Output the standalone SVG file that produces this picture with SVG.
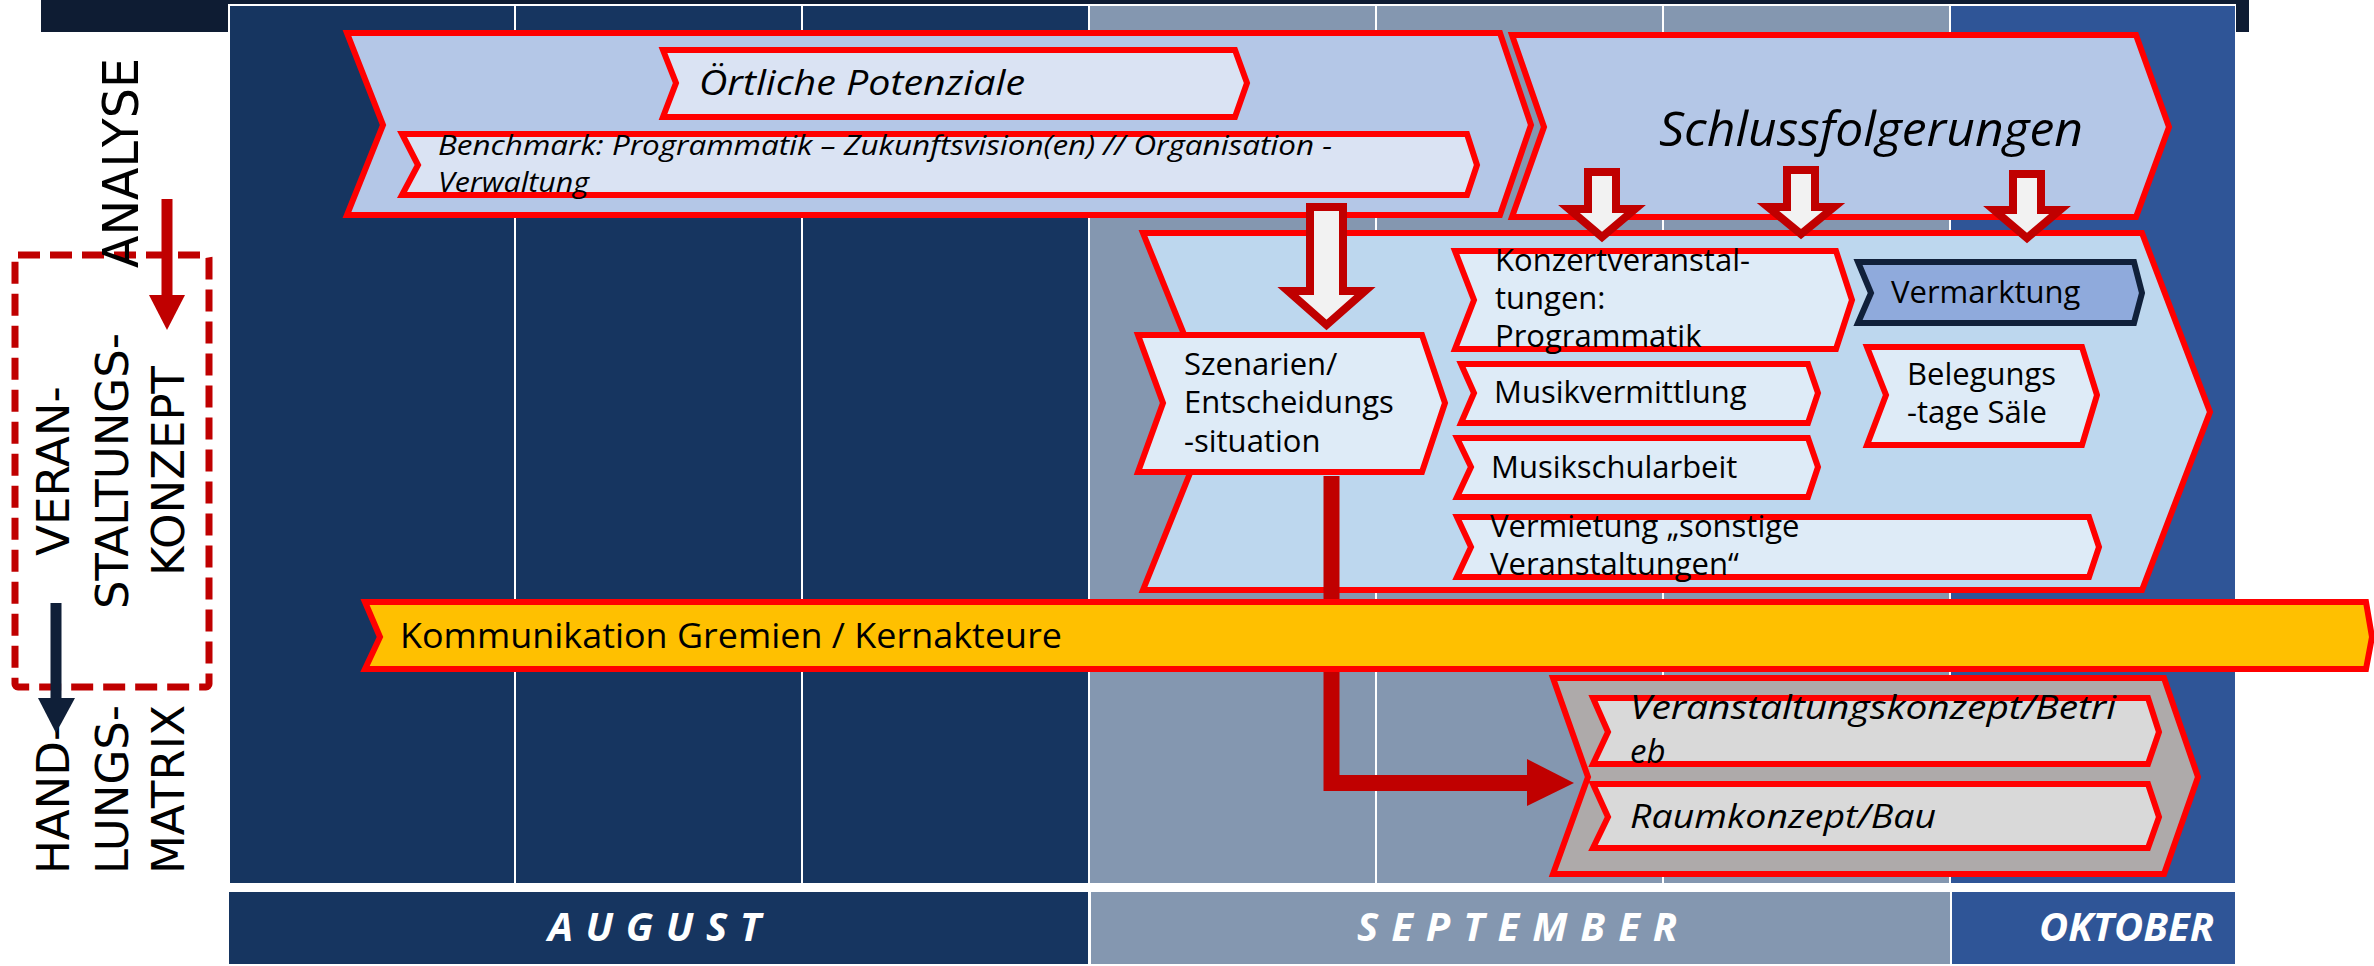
<svg xmlns="http://www.w3.org/2000/svg" width="2374" height="966" viewBox="0 0 2374 966">
<defs>
<style>
.bx{stroke:#FF0000;stroke-width:6;stroke-linejoin:miter}
.l1{fill:#B4C7E7}
.l2{fill:#DAE3F3}
.k1{fill:#BDD7EE}
.k2{fill:#DEEBF7}
.g1{fill:#AEAAAA}
.g2{fill:#D9D9D9}
.t{font-family:"Open Sans","Liberation Sans",sans-serif;fill:#000}
.it{font-style:italic}
.side{font-family:"DejaVu Sans","Liberation Sans",sans-serif;font-size:45px;fill:#000}
.mon{font-family:"Open Sans","Liberation Sans",sans-serif;font-size:40px;font-weight:bold;font-style:italic;fill:#FFFFFF}
.col{stroke:#FFFFFF;stroke-width:2}
.harrow{fill:#F2F2F2;stroke:#C00000;stroke-width:8;stroke-linejoin:miter}
</style>
</defs>

<!-- background -->
<g id="timeline">
<rect x="41" y="0" width="2208" height="32" fill="#0E1C33"/>
<rect x="228" y="4" width="2008" height="880" fill="#FFFFFF"/>
<rect x="230" y="6" width="858" height="877" fill="#163560"/>
<rect x="1088" y="6" width="862" height="877" fill="#8497B0"/>
<rect x="1950" y="6" width="285" height="877" fill="#2F5597"/>
<line class="col" x1="515" y1="5" x2="515" y2="883"/>
<line class="col" x1="802" y1="5" x2="802" y2="883"/>
<line class="col" x1="1089" y1="5" x2="1089" y2="883"/>
<line class="col" x1="1376" y1="5" x2="1376" y2="883"/>
<line class="col" x1="1663" y1="5" x2="1663" y2="883"/>
<line class="col" x1="1950" y1="5" x2="1950" y2="883"/>
<rect x="229" y="892" width="859" height="72" fill="#163560"/>
<rect x="1091" y="892" width="859" height="72" fill="#8497B0"/>
<rect x="1952" y="892" width="283" height="72" fill="#2F5597"/>
<text class="mon" x="548" y="941" letter-spacing="12.5">AUGUST</text>
<text class="mon" x="1357" y="941" letter-spacing="13">SEPTEMBER</text>
<text class="mon" x="2214" y="941" text-anchor="end">OKTOBER</text>
</g>

<!-- left side labels -->
<g id="side-labels">
<rect x="15" y="255" width="194" height="432" rx="3" fill="none" stroke="#C00000" stroke-width="7" stroke-dasharray="22 10"/>
<text class="side" transform="translate(138,268) rotate(-90)" textLength="210" lengthAdjust="spacingAndGlyphs" style="font-size:50px">ANALYSE</text>
<text class="side" text-anchor="middle" transform="translate(69,471) rotate(-90)">VERAN-</text>
<text class="side" text-anchor="middle" transform="translate(128,471) rotate(-90)">STALTUNGS-</text>
<text class="side" text-anchor="middle" transform="translate(184,471) rotate(-90)">KONZEPT</text>
<text class="side" transform="translate(69,874) rotate(-90)">HAND-</text>
<text class="side" transform="translate(128,874) rotate(-90)">LUNGS-</text>
<text class="side" transform="translate(184,874) rotate(-90)">MATRIX</text>
</g>
<g id="side-arrows">
<line x1="167" y1="199" x2="167" y2="297" stroke="#C00000" stroke-width="11"/>
<polygon points="149,295 185,295 167,330" fill="#C00000"/>
<line x1="56" y1="603" x2="56" y2="700" stroke="#0F1F38" stroke-width="11"/>
<polygon points="38,698 75,698 56,733" fill="#0F1F38"/>
</g>

<!-- Analyse -->
<g id="analyse">
<polygon class="bx l1" points="347,33 1500,33 1531,125 1500,215 347,215 383,125"/>
</g>
<g id="oertliche-potenziale">
<polygon class="bx l2" points="663,50 1235,50 1247,83 1235,117 663,117 676,83"/>
<text class="t it" x="699" y="95" font-size="34" textLength="326" lengthAdjust="spacingAndGlyphs">Örtliche Potenziale</text>
</g>
<g id="benchmark">
<polygon class="bx l2" points="402,134 1467,134 1477,165 1467,195 402,195 418,165"/>
<text class="t it" font-size="28"><tspan x="438" y="155" textLength="894" lengthAdjust="spacingAndGlyphs">Benchmark: Programmatik – Zukunftsvision(en) // Organisation -</tspan></text>
<text class="t it" font-size="28" x="438" y="192" textLength="151" lengthAdjust="spacingAndGlyphs">Verwaltung</text>
</g>

<g id="schlussfolgerungen">
<polygon class="bx l1" points="1512,35 2136,35 2169,127 2136,217 1512,217 1544,127"/>
<text class="t it" x="1659" y="146" font-size="47" textLength="424" lengthAdjust="spacingAndGlyphs">Schlussfolgerungen</text>
</g>

<!-- Konzept -->
<g id="konzept">
<polygon class="bx k1" points="1143,233 2142,233 2210,412 2142,590 1143,590 1215,411"/>
</g>
<g id="konzertveranstaltungen">
<polygon class="bx k2" points="1455,251 1836,251 1852,300 1836,349 1455,349 1474,300"/>
<text class="t" font-size="31"><tspan x="1495" y="271">Konzertveranstal-</tspan><tspan x="1495" y="309">tungen:</tspan><tspan x="1495" y="347">Programmatik</tspan></text>
</g>
<g id="musikvermittlung">
<polygon class="bx k2" points="1461,364 1808,364 1818,393 1808,423 1461,423 1474,393"/>
<text class="t" x="1494" y="403" font-size="31">Musikvermittlung</text>
</g>
<g id="musikschularbeit">
<polygon class="bx k2" points="1457,438 1808,438 1818,467 1808,497 1457,497 1471,467"/>
<text class="t" x="1491" y="478" font-size="31">Musikschularbeit</text>
</g>
<g id="vermietung">
<polygon class="bx k2" points="1457,517 2089,517 2099,547 2089,577 1457,577 1471,547"/>
<text class="t" font-size="31"><tspan x="1490" y="537">Vermietung „sonstige</tspan><tspan x="1490" y="575">Veranstaltungen“</tspan></text>
</g>
<g id="vermarktung">
<polygon points="1858,262 2134,262 2142,293 2134,323 1858,323 1871,293" fill="#8FAADC" stroke="#10203A" stroke-width="6"/>
<text class="t" x="1891" y="303" font-size="31">Vermarktung</text>
</g>
<g id="belegungstage">
<polygon class="bx k2" points="1867,347 2082,347 2097,395 2082,445 1867,445 1886,395"/>
<text class="t" font-size="31"><tspan x="1907" y="385">Belegungs</tspan><tspan x="1907" y="423">-tage Säle</tspan></text>
</g>
<g id="szenarien">
<polygon class="bx k2" points="1138,335 1422,335 1445,403 1422,472 1138,472 1163,403"/>
<text class="t" font-size="31"><tspan x="1184" y="375">Szenarien/</tspan><tspan x="1184" y="413">Entscheidungs</tspan><tspan x="1184" y="452">-situation</tspan></text>
</g>

<!-- connectors -->
<g id="connectors">
<polygon class="harrow" points="1310,207 1343,207 1343,291 1365,291 1326.5,325 1288,291 1310,291"/>
<polygon class="harrow" points="1588,172 1616,172 1616,209 1635,209 1602,237 1569,209 1588,209"/>
<polygon class="harrow" points="1787,170 1815,170 1815,207 1834,207 1801,234 1768,207 1787,207"/>
<polygon class="harrow" points="2013,174 2041,174 2041,210 2060,210 2027,238 1994,210 2013,210"/>
<polyline points="1331.5,476 1331.5,783 1530,783" fill="none" stroke="#C00000" stroke-width="16" stroke-linejoin="miter"/>
<polygon points="1527,759 1574,783 1527,806" fill="#C00000"/>
</g>

<g id="kommunikation">
<polygon class="bx" fill="#FFC000" points="365,602 2366,602 2372,637 2366,669 365,669 380,637"/>
<text class="t" x="400" y="648" font-size="35" textLength="662" lengthAdjust="spacingAndGlyphs">Kommunikation Gremien / Kernakteure</text>
</g>

<g id="umsetzung">
<polygon class="bx g1" points="1553,678 2164,678 2198,777 2164,874 1553,874 1588,777"/>
</g>
<g id="veranstaltungskonzept">
<polygon class="bx g2" points="1593,698 2148,698 2159,732 2148,764 1593,764 1608,732"/>
<text class="t it" font-size="33" x="1630" y="719" textLength="486" lengthAdjust="spacingAndGlyphs">Veranstaltungskonzept/Betri</text>
<text class="t it" font-size="33" x="1630" y="763">eb</text>
</g>
<g id="raumkonzept">
<polygon class="bx g2" points="1593,784 2148,784 2159,817 2148,848 1593,848 1608,817"/>
<text class="t it" x="1630" y="828" font-size="33" textLength="306" lengthAdjust="spacingAndGlyphs">Raumkonzept/Bau</text>
</g>
</svg>
